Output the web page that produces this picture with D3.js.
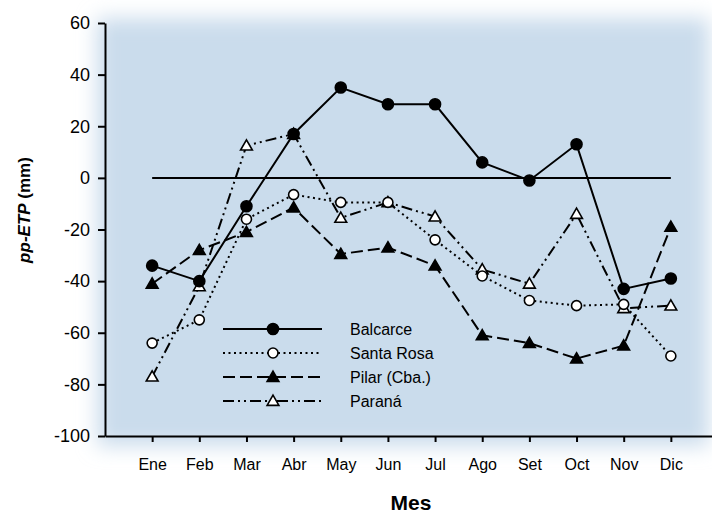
<!DOCTYPE html>
<html>
<head>
<meta charset="utf-8">
<script src="https://cdn.jsdelivr.net/npm/d3@7"></script>
<style>
  body { margin: 0; background: #fff; }
  svg { display: block; font-family: "Liberation Sans", Arial, sans-serif; }
</style>
</head>
<body>
<div id="chart"></div>
<script>
let months = ["Ene", "Feb", "Mar", "Abr", "May", "Jun", "Jul", "Ago", "Set", "Oct", "Nov", "Dic"];
let balcarce = [-34, -40, -11, 17, 35, 28.5, 28.5, 6, -1, 13, -43, -39];
let santa_rosa = [-64, -55, -16, -6.5, -9.5, -9.5, -24, -38, -47.5, -49.5, -49, -69];
let pilar = [-41, -28, -21, -11.5, -29.5, -27, -34, -61, -64, -70, -65, -19];
let parana = [-77, -42, 12.5, 17, -15.5, -9.5, -15, -35.5, -41, -14, -50.5, -49.5];
let y_ticks = [-100, -80, -60, -40, -20, 0, 20, 40, 60];

let width = 712;
let height = 513;

let series = [
    {name: "Balcarce", values: balcarce, dash: null, marker: "circle", fill: "black"},
    {name: "Santa Rosa", values: santa_rosa, dash: "2,3.5", marker: "circle", fill: "white"},
    {name: "Pilar (Cba.)", values: pilar, dash: "12,5", marker: "triangle", fill: "black"},
    {name: "Paraná", values: parana, dash: "11,4,2,4,2,4", marker: "triangle", fill: "white"}
];

let x = d3.scaleLinear().domain([0, 13]).range([105, 718]);
let y = d3.scaleLinear().domain([-100, 60]).range([436, 23]);

let svg = d3.select("#chart").append("svg")
    .attr("width", width)
    .attr("height", height);

// soft blue background with feathered edges
let defs = svg.append("defs");
defs.append("filter")
    .attr("id", "soft")
    .attr("x", "-20%").attr("y", "-20%")
    .attr("width", "140%").attr("height", "140%")
    .append("feGaussianBlur")
    .attr("stdDeviation", 10);

svg.append("rect")
    .attr("x", 97).attr("y", 18)
    .attr("width", 612).attr("height", 428)
    .attr("fill", "#cadcec")
    .attr("filter", "url(#soft)");

// zero line
svg.append("line")
    .attr("x1", x(1)).attr("x2", x(12))
    .attr("y1", y(0)).attr("y2", y(0))
    .attr("stroke", "black")
    .attr("stroke-width", 2);

// axes (plain hyphen for negatives, like the original)
let y_axis = svg.append("g")
    .attr("transform", `translate(${x(0)},0)`)
    .call(d3.axisLeft(y).tickValues(y_ticks).tickFormat(d => String(d))
          .tickSize(7).tickSizeOuter(0).tickPadding(8));

let x_axis = svg.append("g")
    .attr("transform", `translate(0,${y(-100)})`)
    .call(d3.axisBottom(x).tickValues(d3.range(1, 13))
          .tickFormat(i => months[i - 1]).tickSize(6).tickSizeOuter(0).tickPadding(17));

for (let ax of [y_axis, x_axis]) {
    ax.select(".domain").attr("stroke-width", 2);
    ax.selectAll(".tick line").attr("stroke-width", 2);
    ax.selectAll("text").attr("fill", "black").style("font-size", "16px");
}
y_axis.selectAll("text").style("font-size", "18px");

// axis titles
svg.append("text")
    .attr("transform", "translate(30,210) rotate(-90)")
    .attr("text-anchor", "middle")
    .style("font-size", "17px")
    .style("font-weight", "bold")
    .html('<tspan font-style="italic">pp-ETP</tspan> (mm)');

svg.append("text")
    .attr("x", 411).attr("y", 510)
    .attr("text-anchor", "middle")
    .style("font-size", "21px")
    .style("font-weight", "bold")
    .text("Mes");

let line = d3.line()
    .x((d, i) => x(i + 1))
    .y(d => y(d));

let tri = d3.symbol().type(d3.symbolTriangle).size(60);

function draw_marker(g, s, cx, cy) {
    if (s.marker === "circle") {
        g.append("circle")
            .attr("cx", cx).attr("cy", cy)
            .attr("r", s.fill === "black" ? 5.5 : 5)
            .attr("fill", s.fill)
            .attr("stroke", "black")
            .attr("stroke-width", 1.6);
    } else {
        g.append("path")
            .attr("d", tri)
            .attr("transform", `translate(${cx},${cy + 1})`)
            .attr("fill", s.fill)
            .attr("stroke", "black")
            .attr("stroke-width", 1.6);
    }
}

// series (draw last series first so Balcarce sits on top)
for (let s of series.slice().reverse()) {
    let g = svg.append("g");
    g.append("path")
        .datum(s.values)
        .attr("d", line)
        .attr("fill", "none")
        .attr("stroke", "black")
        .attr("stroke-width", 2)
        .attr("stroke-dasharray", s.dash);
    s.values.forEach((v, i) => draw_marker(g, s, x(i + 1), y(v)));
}

// legend
let legend_y = [329, 353, 377, 401];
series.forEach((s, i) => {
    let g = svg.append("g");
    g.append("line")
        .attr("x1", 223).attr("x2", 322)
        .attr("y1", legend_y[i]).attr("y2", legend_y[i])
        .attr("stroke", "black")
        .attr("stroke-width", 2)
        .attr("stroke-dasharray", s.dash);
    draw_marker(g, s, 273, legend_y[i]);
    g.append("text")
        .attr("x", 350).attr("y", legend_y[i] + 6)
        .style("font-size", "16px")
        .text(s.name);
});
</script>
</body>
</html>
